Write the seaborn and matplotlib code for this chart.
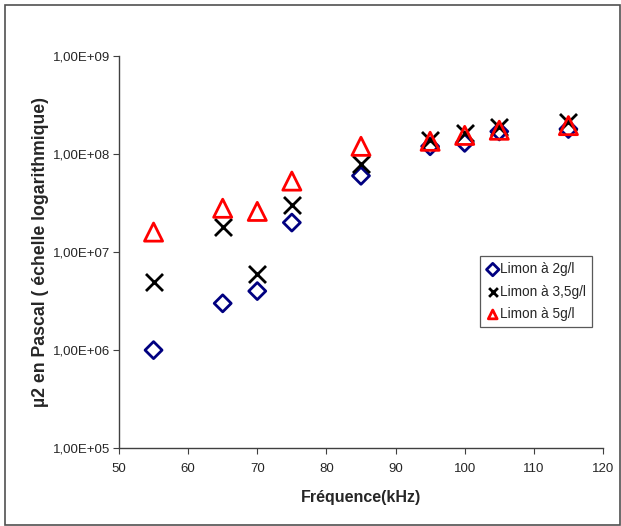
import matplotlib
matplotlib.use("Agg")
import matplotlib.pyplot as plt
import seaborn as sns
import pandas as pd
from matplotlib.ticker import FixedLocator, FuncFormatter, NullLocator
from matplotlib.patches import Rectangle

sns.set_style("white")
plt.rcParams['font.family'] = ['Liberation Sans', 'DejaVu Sans']

freq_2 = [55, 65, 70, 75, 85, 95, 100, 105, 115]
val_2 = [1.0e6, 3.0e6, 4.0e6, 2.0e7, 6.0e7, 1.2e8, 1.3e8, 1.7e8, 1.8e8]
freq_35 = [55, 65, 70, 75, 85, 95, 100, 105, 115]
val_35 = [5.0e6, 1.8e7, 6.0e6, 3.0e7, 8.0e7, 1.4e8, 1.65e8, 1.9e8, 2.1e8]
freq_5 = [55, 65, 70, 75, 85, 95, 100, 105, 115]
val_5 = [1.6e7, 2.8e7, 2.6e7, 5.3e7, 1.2e8, 1.35e8, 1.55e8, 1.75e8, 1.95e8]
labels = ["Limon à 2g/l", "Limon à 3,5g/l", "Limon à 5g/l"]
y_ticks = [1e5, 1e6, 1e7, 1e8, 1e9]
x_ticks = [50, 60, 70, 80, 90, 100, 110, 120]

fig = plt.figure(figsize=(6.21, 5.26), dpi=100)
ax = fig.add_axes([0.1916, 0.148, 0.7794, 0.7455])

d2 = pd.DataFrame({"f": freq_2, "v": val_2})
d35 = pd.DataFrame({"f": freq_35, "v": val_35})
d5 = pd.DataFrame({"f": freq_5, "v": val_5})

sns.scatterplot(data=d2, x="f", y="v", ax=ax, marker="D", s=75,
                facecolors="none", edgecolor="#000080", linewidth=2, label=labels[0], zorder=3)
sns.scatterplot(data=d35, x="f", y="v", ax=ax, marker="x", s=150,
                color="black", linewidth=2, label=labels[1], zorder=4)
sns.scatterplot(data=d5, x="f", y="v", ax=ax, marker="^", s=170,
                facecolors="none", edgecolor="#ff0000", linewidth=2, label=labels[2], zorder=5)

ax.set_yscale("log")
ax.set_xlim(50, 120)
ax.set_ylim(1e5, 1e9)
ax.yaxis.set_major_locator(FixedLocator(y_ticks))
ax.yaxis.set_minor_locator(NullLocator())
ax.yaxis.set_major_formatter(FuncFormatter(lambda v, p: ("%.2E" % v).replace(".", ",")))
ax.xaxis.set_major_locator(FixedLocator(x_ticks))
ax.tick_params(axis="both", direction="out", length=4.5, width=0.8, color="#404040",
               labelsize=9.5, left=True, bottom=True)
ax.tick_params(axis="y", pad=2)
ax.tick_params(axis="x", pad=6)
for s in ["top", "right"]:
    ax.spines[s].set_visible(False)
for s in ["left", "bottom"]:
    ax.spines[s].set_color("#404040")
    ax.spines[s].set_linewidth(1.0)

ax.set_xlabel("Fréquence(kHz)", fontsize=11.5, fontweight="bold", labelpad=11)
ax.set_ylabel("µ2 en Pascal ( échelle logarithmique)", fontsize=12.7, fontweight="bold", labelpad=3)

leg = ax.legend(loc="upper left", bbox_to_anchor=(0.7455, 0.490), fontsize=9.8, frameon=True,
                fancybox=False, edgecolor="#303030", handletextpad=0.0, handlelength=1.0,
                borderpad=0.45, labelspacing=0.62, borderaxespad=0)
leg.get_frame().set_linewidth(0.9)
for h in leg.legend_handles:
    try:
        h.set_sizes([40])
    except Exception:
        pass

fig.patches.append(Rectangle((0.008, 0.002), 0.99, 0.988, transform=fig.transFigure,
                             fill=False, edgecolor="#505050", linewidth=1.2))

fig.savefig("out.png", dpi=100)
